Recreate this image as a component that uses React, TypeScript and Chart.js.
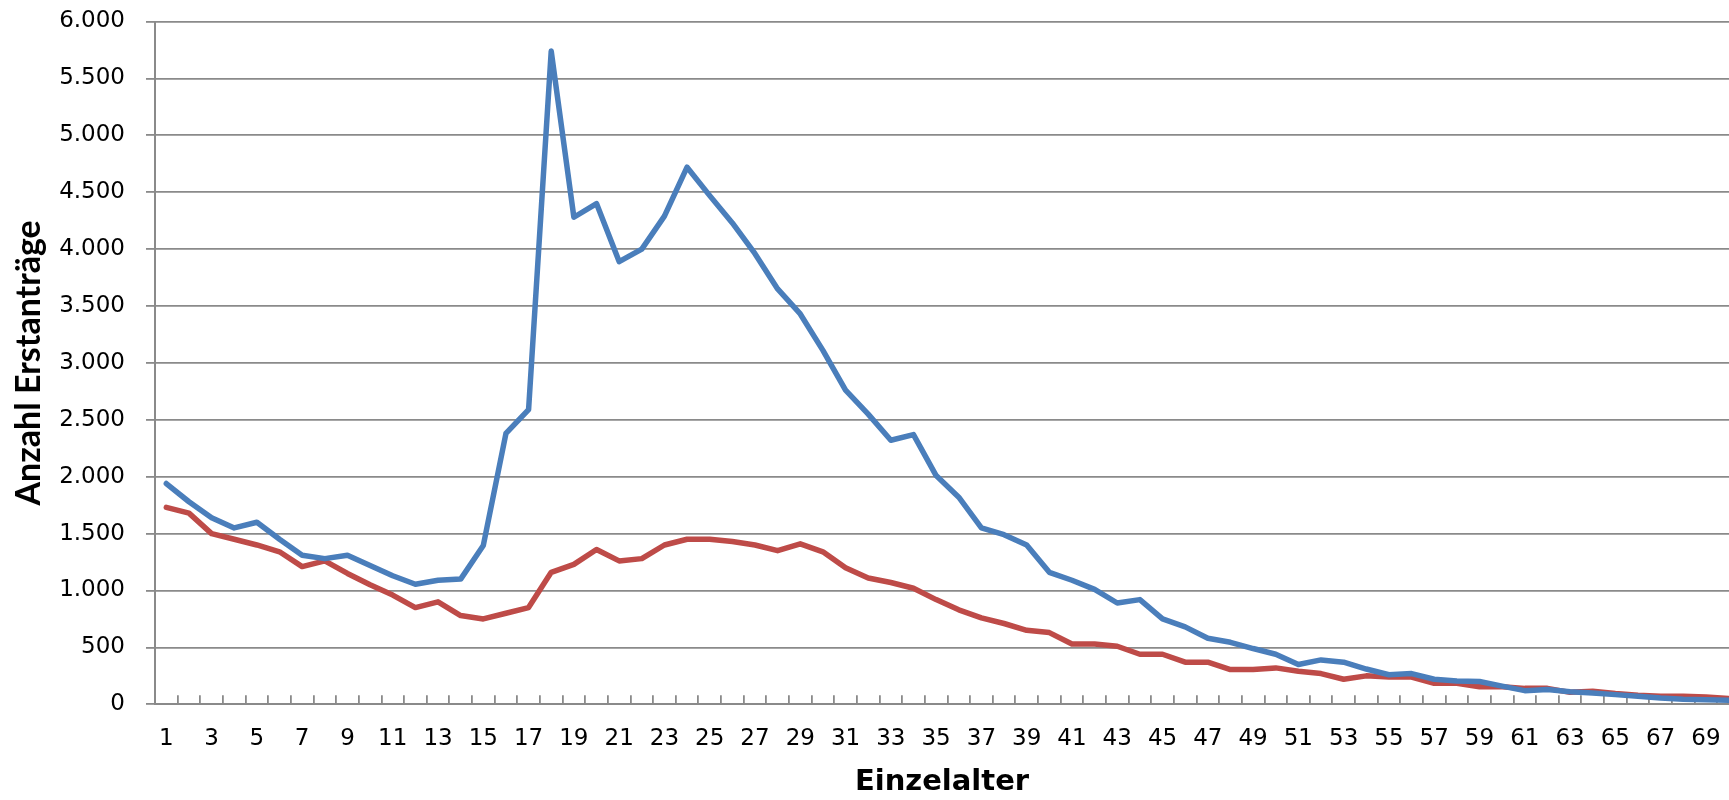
import React, { useEffect, useRef } from 'react';
import { Chart, registerables } from 'chart.js';

Chart.register(...registerables);

// Einzelalter (age in years) – categories
const ages = [
  1, 2, 3, 4, 5, 6, 7, 8, 9, 10,
  11, 12, 13, 14, 15, 16, 17, 18, 19, 20,
  21, 22, 23, 24, 25, 26, 27, 28, 29, 30,
  31, 32, 33, 34, 35, 36, 37, 38, 39, 40,
  41, 42, 43, 44, 45, 46, 47, 48, 49, 50,
  51, 52, 53, 54, 55, 56, 57, 58, 59, 60,
  61, 62, 63, 64, 65, 66, 67, 68, 69, 70,
];

// labelled ages on the x axis
const xTickLabels = [
  1, 3, 5, 7, 9, 11, 13, 15, 17, 19, 21, 23, 25, 27, 29, 31, 33, 35,
  37, 39, 41, 43, 45, 47, 49, 51, 53, 55, 57, 59, 61, 63, 65, 67, 69,
];

// blue series
const seriesBlue = [
  1940, 1780, 1640, 1550, 1600, 1450, 1310, 1280, 1310, 1220,
  1130, 1055, 1090, 1100, 1395, 2380, 2590, 5740, 4280, 4400,
  3890, 4000, 4290, 4720, 4470, 4230, 3960, 3650, 3430, 3110,
  2760, 2550, 2320, 2370, 2010, 1820, 1550, 1490, 1400, 1160,
  1090, 1010, 890, 920, 750, 680, 580, 545, 490, 440,
  350, 390, 370, 310, 260, 270, 220, 205, 200, 160,
  120, 130, 110, 100, 85, 70, 55, 45, 40, 35,
];

// red series
const seriesRed = [
  1730, 1680, 1500, 1450, 1400, 1340, 1210, 1260, 1150, 1050,
  960, 850, 900, 780, 750, 800, 850, 1160, 1230, 1360,
  1260, 1280, 1400, 1450, 1450, 1430, 1400, 1350, 1410, 1340,
  1200, 1110, 1070, 1020, 920, 830, 760, 710, 650, 630,
  530, 530, 510, 440, 440, 370, 370, 305, 305, 320,
  290, 270, 220, 250, 240, 240, 185, 185, 155, 155,
  140, 140, 105, 115, 95, 80, 70, 70, 65, 50,
];

const yMin = 0;
const yMax = 6000;
const yStep = 500;

const formatDE = (v: number): string => {
  if (v >= 1000) {
    const th = Math.floor(v / 1000);
    const rest = String(v % 1000).padStart(3, '0');
    return `${th}.${rest}`;
  }
  return String(v);
};

export default function App() {
  const canvasRef = useRef<HTMLCanvasElement | null>(null);

  useEffect(() => {
    const canvas = canvasRef.current;
    if (!canvas) return;

    const gridColor = '#8a8a8a';

    const chart = new Chart(canvas, {
      type: 'line',
      data: {
        datasets: [
          {
            label: 'Reihe 1',
            data: ages.map((a, i) => ({ x: a, y: seriesBlue[i] })),
            borderColor: '#4A7EBB',
            backgroundColor: '#4A7EBB',
            borderWidth: 5.5,
            pointRadius: 0,
            tension: 0,
            borderJoinStyle: 'round',
            borderCapStyle: 'round',
          },
          {
            label: 'Reihe 2',
            data: ages.map((a, i) => ({ x: a, y: seriesRed[i] })),
            borderColor: '#BE4B48',
            backgroundColor: '#BE4B48',
            borderWidth: 5.5,
            pointRadius: 0,
            tension: 0,
            borderJoinStyle: 'round',
            borderCapStyle: 'round',
          },
        ],
      },
      options: {
        animation: false,
        responsive: true,
        maintainAspectRatio: false,
        layout: { padding: { top: 21.5, left: 0, right: 0, bottom: 0 } },
        plugins: {
          legend: { display: false },
          tooltip: { enabled: false },
        },
        scales: {
          x: {
            type: 'linear',
            min: 0.5,
            max: 70.02,
            afterBuildTicks: (scale: any) => {
              scale.ticks = ages.map((v) => ({ value: v }));
            },
            afterFit: (scale: any) => {
              scale.height = 95.7;
              scale.paddingLeft = 0;
              scale.paddingRight = 0;
            },
            ticks: {
              autoSkip: false,
              maxRotation: 0,
              minRotation: 0,
              padding: 30,
              color: '#000',
              font: { family: 'DejaVu Sans', size: 23 },
              callback: (value: any) =>
                xTickLabels.includes(Number(value)) ? String(value) : '',
            },
            grid: {
              offset: true,
              drawOnChartArea: false,
              drawTicks: true,
              tickLength: -9,
              color: gridColor,
              lineWidth: 1.8,
            },
            border: { display: true, color: gridColor, width: 2 },
            title: {
              display: true,
              text: 'Einzelalter',
              color: '#000',
              font: { family: 'DejaVu Sans', weight: 'bold', size: 29, lineHeight: 1.2 },
              padding: { top: 0, bottom: 0 },
            },
          },
          y: {
            min: yMin,
            max: yMax,
            afterFit: (scale: any) => {
              scale.width = 155;
              scale.paddingTop = 0;
              scale.paddingBottom = 0;
            },
            ticks: {
              stepSize: yStep,
              padding: 21,
              color: '#000',
              font: { family: 'DejaVu Sans', size: 23 },
              callback: (value: any) => formatDE(Number(value)),
            },
            grid: {
              color: gridColor,
              lineWidth: 1.8,
              drawTicks: true,
              tickLength: 9,
            },
            border: { display: true, color: gridColor, width: 2 },
            title: {
              display: true,
              text: 'Anzahl Erstanträge',
              color: '#000',
              font: { family: 'Lato', weight: 'bold', size: 34, lineHeight: 1.2 },
              padding: { top: 9, bottom: 0 },
            },
          },
        },
      },
    });

    return () => {
      chart.destroy();
    };
  }, []);

  return (
    <div
      style={{
        position: 'fixed',
        left: 0,
        top: 0,
        width: '1729px',
        height: '800px',
        background: '#fff',
      }}
    >
      <canvas ref={canvasRef} />
    </div>
  );
}
